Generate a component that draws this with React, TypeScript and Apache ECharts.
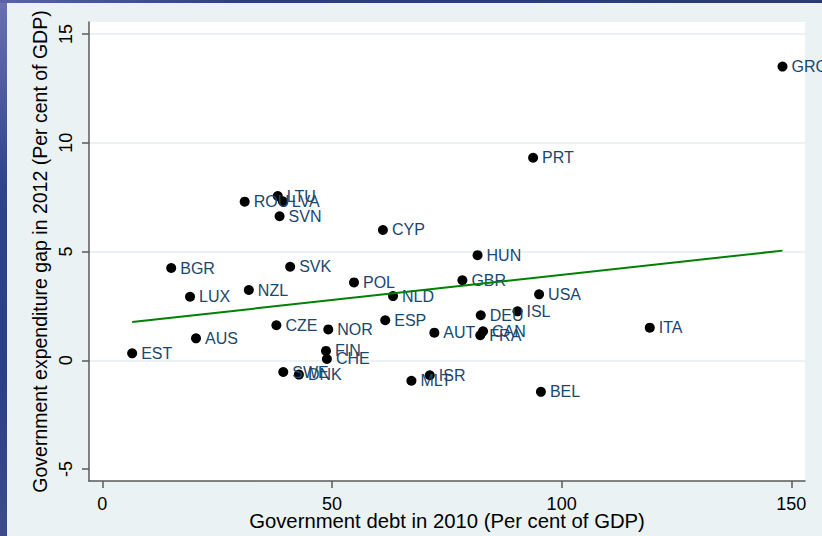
import React, { useEffect, useRef } from "react";
import * as echarts from "echarts";

const countries = ["GRC","PRT","LTU","ROU","LVA","SVN","CYP","HUN","BGR","SVK","GBR","POL","USA","NZL","LUX","NLD","ISL","DEU","ESP","CZE","ITA","NOR","AUT","CAN","FRA","AUS","EST","FIN","CHE","SWE","DNK","MLT","ISR","BEL"];
const debt2010 = [148.1,93.8,38.2,31.0,39.3,38.6,61.1,81.7,15.0,40.9,78.4,54.8,95.1,31.9,19.1,63.3,90.4,82.4,61.6,37.9,119.2,49.2,72.3,82.9,82.3,20.4,6.5,48.7,48.9,39.4,42.8,67.3,71.3,95.5];
const gap2012 = [13.5,9.31,7.55,7.29,7.31,6.62,5.99,4.83,4.24,4.3,3.68,3.58,3.03,3.23,2.92,2.95,2.25,2.07,1.84,1.61,1.5,1.42,1.27,1.33,1.15,1.01,0.32,0.43,0.06,-0.54,-0.66,-0.94,-0.69,-1.45];
const fitX = [6.5, 148.1];
const fitY = [1.76, 5.04];
const xTitle = "Government debt in 2010 (Per cent of GDP)";
const yTitle = "Government expenditure gap in 2012 (Per cent of GDP)";

const FONT = "'Liberation Sans', Arial, Helvetica, sans-serif";

export default function App() {
  const ref = useRef<HTMLDivElement>(null);
  useEffect(() => {
    if (!ref.current) return;
    const chart = echarts.init(ref.current, null, { renderer: "svg" });
    const axisColor = "#5a5a5a";
    chart.setOption({
      animation: false,
      backgroundColor: "#eaf2f3",
      textStyle: { fontFamily: FONT },
      grid: [
        { left: 89, top: 22, width: 716, height: 459, show: true, backgroundColor: "#ffffff", borderWidth: 0 },
        { left: 102.3, top: 34, width: 689, height: 435, show: false },
        { left: 89, top: 34, width: 716, height: 326.25, show: false },
      ],
      xAxis: [
        {
          gridIndex: 0, type: "value", min: -2.9, max: 153,
          axisLine: { show: true, onZero: false, lineStyle: { color: axisColor, width: 1.5 } },
          axisTick: { show: false }, axisLabel: { show: false }, splitLine: { show: false },
          name: xTitle, nameLocation: "middle", nameGap: 30,
          nameTextStyle: { fontSize: 20.3, color: "#000", fontFamily: FONT },
        },
        {
          gridIndex: 1, type: "value", min: 0, max: 150, interval: 50, offset: 12,
          axisLine: { show: false, onZero: false },
          axisTick: { show: true, length: 7, lineStyle: { color: axisColor, width: 1.5 } },
          axisLabel: { show: true, fontSize: 18, color: "#000", margin: 14, fontFamily: FONT },
          splitLine: { show: false },
        },
        { gridIndex: 2, type: "value", min: 0, max: 1, show: false, axisLine: { onZero: false } },
      ],
      yAxis: [
        {
          gridIndex: 0, type: "value", min: -5.55, max: 15.55,
          axisLine: { show: true, onZero: false, lineStyle: { color: axisColor, width: 1.5 } },
          axisTick: { show: false }, axisLabel: { show: false }, splitLine: { show: false },
          name: yTitle, nameLocation: "middle", nameGap: 39, nameRotate: 90,
          nameTextStyle: { fontSize: 19.5, color: "#000", fontFamily: FONT },
        },
        {
          gridIndex: 1, type: "value", min: -5, max: 15, interval: 5, offset: 13.3,
          axisLine: { show: false, onZero: false },
          axisTick: { show: true, length: 7, lineStyle: { color: axisColor, width: 1.5 } },
          axisLabel: { show: true, fontSize: 18, color: "#000", margin: 14, rotate: 90, fontFamily: FONT },
          splitLine: { show: false },
        },
        {
          gridIndex: 2, type: "value", min: 0, max: 15, interval: 5,
          axisLine: { show: false, onZero: false }, axisTick: { show: false }, axisLabel: { show: false },
          splitLine: { show: true, lineStyle: { color: "#e4edf1", width: 1.5 } },
        },
      ],
      series: [
        {
          type: "scatter",
          xAxisIndex: 0, yAxisIndex: 0,
          symbol: "circle", symbolSize: 10,
          itemStyle: { color: "#000", opacity: 1 },
          label: {
            show: true, position: "right", distance: 4, formatter: "{b}",
            color: "#1a476f", fontSize: 16, fontFamily: FONT,
          },
          data: countries.map((c, i) => ({ name: c, value: [debt2010[i], gap2012[i]] })),
        },
        {
          type: "line",
          xAxisIndex: 0, yAxisIndex: 0,
          showSymbol: false, symbol: "none",
          lineStyle: { color: "#008000", width: 2 },
          data: fitX.map((x, i) => [x, fitY[i]]),
          z: 3,
        },
      ],
      graphic: [
        {
          type: "rect", z: 101, shape: { x: 0, y: 0, width: 7, height: 536 },
          style: {
            fill: new echarts.graphic.LinearGradient(0, 0, 0, 1, [
              { offset: 0, color: "#6a72b0" },
              { offset: 0.35, color: "#2f4389" },
              { offset: 0.7, color: "#2b3f85" },
              { offset: 1, color: "#3d4b88" },
            ]),
          },
        },
        {
          type: "rect", z: 101, shape: { x: 0, y: 0, width: 822, height: 3 },
          style: {
            fill: new echarts.graphic.LinearGradient(0, 0, 1, 0, [
              { offset: 0, color: "#5a63a6" },
              { offset: 0.3, color: "#2d3e80" },
              { offset: 1, color: "#2a3a78" },
            ]),
          },
        },
      ],
    });
    return () => chart.dispose();
  }, []);
  return <div ref={ref} style={{ position: "fixed", left: 0, top: 0, width: 822, height: 536 }} />;
}
